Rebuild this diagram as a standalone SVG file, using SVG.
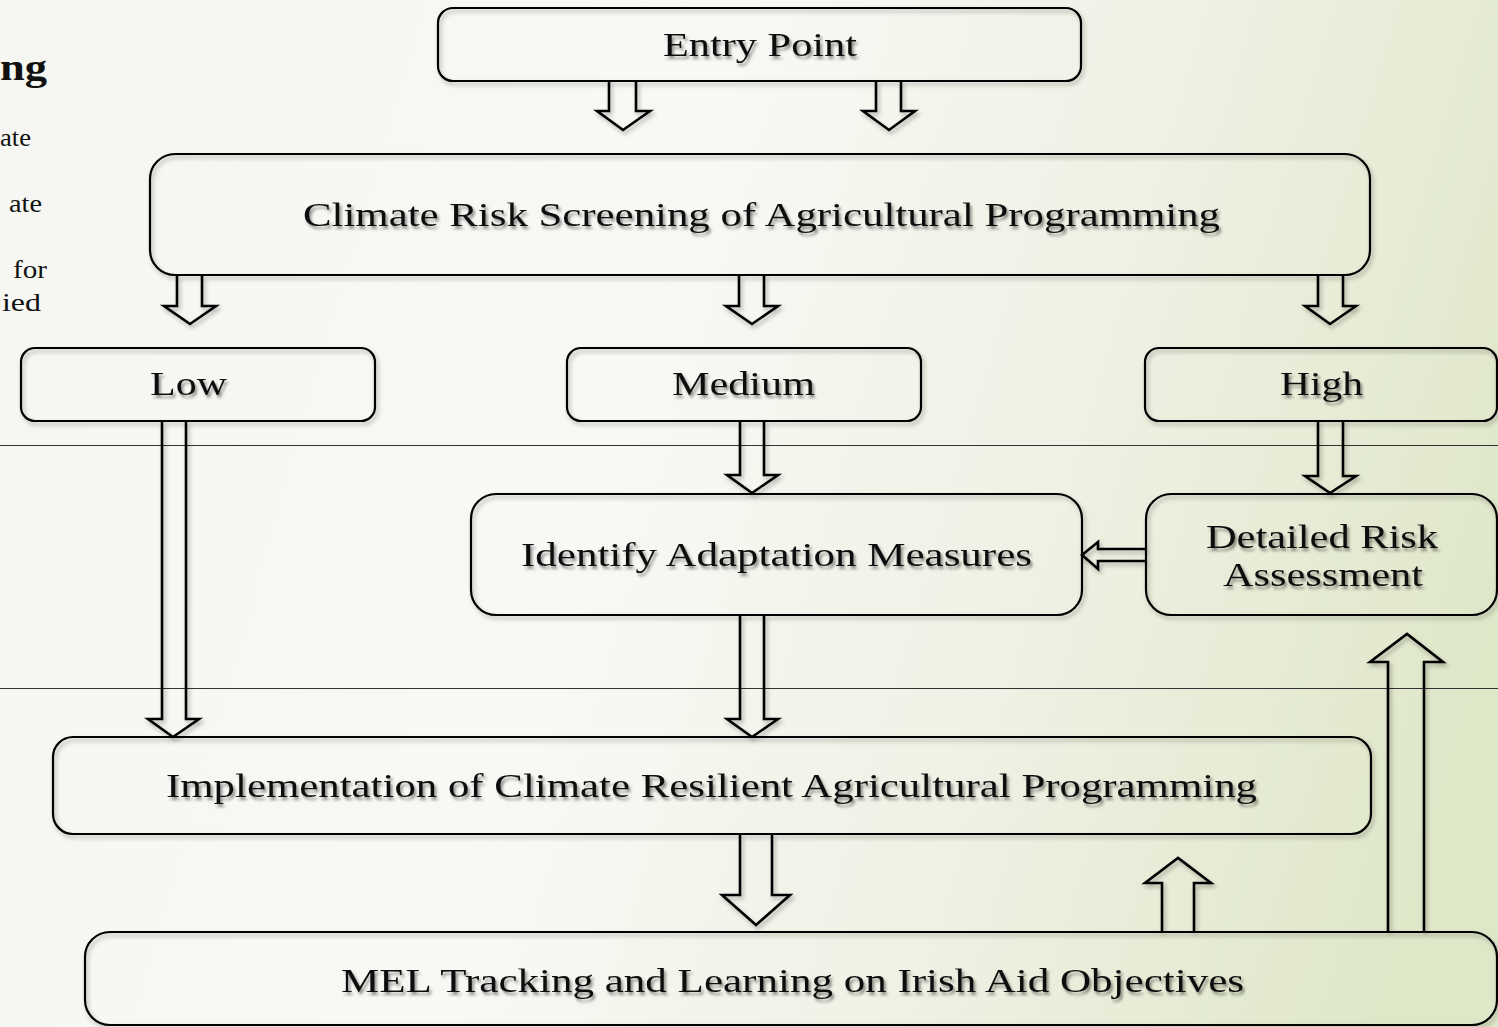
<svg xmlns="http://www.w3.org/2000/svg" width="1498" height="1027" viewBox="0 0 1498 1027">
<defs>
<linearGradient id="bg" x1="0" y1="0.4" x2="1" y2="0.6">
<stop offset="0" stop-color="#f6f7f2"/>
<stop offset="0.4" stop-color="#f8f9f5"/>
<stop offset="0.7" stop-color="#eef1e3"/>
<stop offset="1" stop-color="#dfe7c9"/>
</linearGradient>
<filter id="sh" x="-5%" y="-5%" width="110%" height="120%">
<feDropShadow dx="2" dy="3" stdDeviation="2" flood-color="#000" flood-opacity="0.3"/>
</filter>
<filter id="tsh" x="-5%" y="-20%" width="110%" height="150%">
<feDropShadow dx="2" dy="3" stdDeviation="1.8" flood-color="#000" flood-opacity="0.45"/>
</filter>
</defs>
<style>
.box{fill:none;stroke:#000;stroke-width:2.2;}
.arr{fill:none;stroke:#000;stroke-width:2.6;stroke-linejoin:miter;}
.t{font-family:"Liberation Serif","Times New Roman",serif;font-size:33px;fill:#111;}
.s{font-family:"Liberation Serif","Times New Roman",serif;font-size:26px;fill:#111;}
.b{font-family:"Liberation Serif","Times New Roman",serif;font-size:37px;font-weight:bold;fill:#111;}
.rule{stroke:#333;stroke-width:1;}
</style>
<rect x="0" y="0" width="1498" height="1027" fill="url(#bg)"/>
<line class="rule" x1="0" y1="445.5" x2="1498" y2="445.5"/>
<line class="rule" x1="0" y1="688.5" x2="1498" y2="688.5"/>
<g id="left-text">
<text class="b" x="0" y="80" textLength="47" lengthAdjust="spacingAndGlyphs">ng</text>
<text class="s" x="0" y="146" textLength="31" lengthAdjust="spacingAndGlyphs">ate</text>
<text class="s" x="9" y="212" textLength="33" lengthAdjust="spacingAndGlyphs">ate</text>
<text class="s" x="13" y="278" textLength="34" lengthAdjust="spacingAndGlyphs">for</text>
<text class="s" x="2" y="311" textLength="39" lengthAdjust="spacingAndGlyphs">ied</text>
</g>
<g id="connectors" filter="url(#sh)">
<path class="arr" d="M609,81 V111 H597 L623,130 L650,111 H636 V81"/>
<path class="arr" d="M876,81 V111 H863 L889,130 L915,111 H901 V81"/>
<path class="arr" d="M177,275 V306 H164 L190,324 L216,306 H202 V275"/>
<path class="arr" d="M739,275 V306 H726 L752,324 L778,306 H764 V275"/>
<path class="arr" d="M1318,275 V306 H1305 L1330,324 L1356,306 H1343 V275"/>
<path class="arr" d="M740,421 V475 H727 L752,493 L778,475 H764 V421"/>
<path class="arr" d="M1318,421 V476 H1305 L1330,493 L1356,476 H1343 V421"/>
<path class="arr" d="M162,421 V719 H148 L173,737 L199,719 H186 V421"/>
<path class="arr" d="M740,615 V719 H727 L752,737 L778,719 H764 V615"/>
<path class="arr" d="M740,834 V895 H722 L756,925 L790,895 H772 V834"/>
<path class="arr" d="M1162,931 V883 H1145 L1178,858 L1211,883 H1194 V931"/>
<path class="arr" d="M1388,931 V662 H1370 L1407,634 L1443,662 H1424 V931"/>
<path class="arr" d="M1146,549 H1098 V542 L1082,555 L1098,569 V561 H1146"/>
</g>
<g id="entry" filter="url(#sh)"><rect class="box" x="438" y="8" width="643" height="73" rx="15"/></g>
<g id="screening" filter="url(#sh)"><rect class="box" x="150" y="154" width="1220" height="121" rx="25"/></g>
<g id="low" filter="url(#sh)"><rect class="box" x="21" y="348" width="354" height="73" rx="14"/></g>
<g id="medium" filter="url(#sh)"><rect class="box" x="567" y="348" width="354" height="73" rx="14"/></g>
<g id="high" filter="url(#sh)"><rect class="box" x="1145" y="348" width="352" height="73" rx="14"/></g>
<g id="identify" filter="url(#sh)"><rect class="box" x="471" y="494" width="611" height="121" rx="25"/></g>
<g id="detailed" filter="url(#sh)"><rect class="box" x="1146" y="494" width="351" height="121" rx="25"/></g>
<g id="implementation" filter="url(#sh)"><rect class="box" x="53" y="737" width="1318" height="97" rx="20"/></g>
<g id="mel" filter="url(#sh)"><rect class="box" x="85" y="932" width="1412" height="93" rx="25"/></g>
<g id="labels" filter="url(#tsh)">
<text class="t" x="663" y="56" textLength="194" lengthAdjust="spacingAndGlyphs">Entry Point</text>
<text class="t" x="303" y="226" textLength="917" lengthAdjust="spacingAndGlyphs">Climate Risk Screening of Agricultural Programming</text>
<text class="t" x="150" y="395" textLength="77" lengthAdjust="spacingAndGlyphs">Low</text>
<text class="t" x="672" y="395" textLength="143" lengthAdjust="spacingAndGlyphs">Medium</text>
<text class="t" x="1280" y="395" textLength="83" lengthAdjust="spacingAndGlyphs">High</text>
<text class="t" x="521" y="566" textLength="511" lengthAdjust="spacingAndGlyphs">Identify Adaptation Measures</text>
<text class="t" x="1206" y="548" textLength="232" lengthAdjust="spacingAndGlyphs">Detailed Risk</text>
<text class="t" x="1223" y="586" textLength="200" lengthAdjust="spacingAndGlyphs">Assessment</text>
<text class="t" x="166" y="797" textLength="1091" lengthAdjust="spacingAndGlyphs">Implementation of Climate Resilient Agricultural Programming</text>
<text class="t" x="341" y="992" textLength="903" lengthAdjust="spacingAndGlyphs">MEL Tracking and Learning on Irish Aid Objectives</text>
</g>
</svg>
